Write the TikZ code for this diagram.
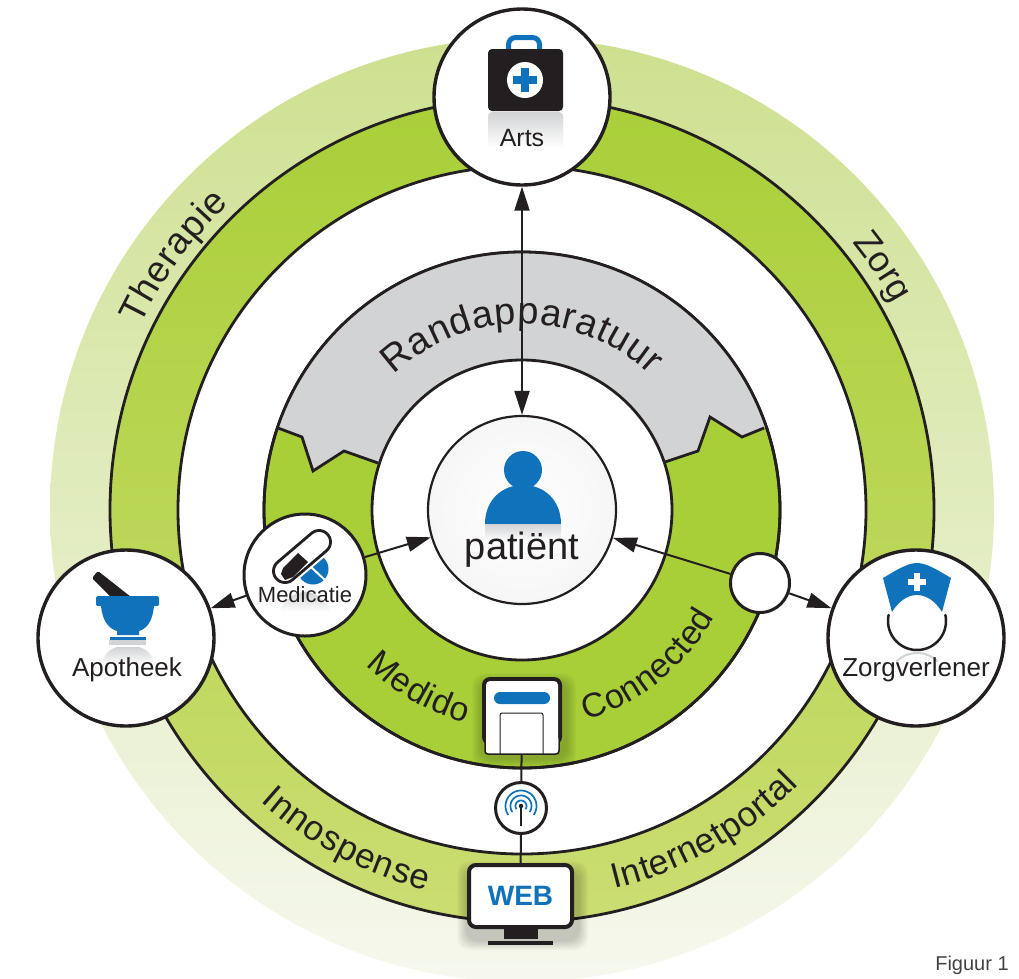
\documentclass[tikz,border=0pt]{standalone}
\usepackage{fontspec}
\setmainfont{Liberation Sans}
\usetikzlibrary{arrows.meta,shapes.geometric}
\definecolor{ink}{HTML}{231F20}
\definecolor{mblue}{HTML}{1072BA}
\definecolor{mgreen}{HTML}{A9CF38}
\definecolor{mgray}{HTML}{D1D3D4}
\definecolor{lighttop}{HTML}{CDE08F}
\definecolor{lightmid}{HTML}{D5E6A8}
\definecolor{lightbot}{HTML}{F6F8EE}
\definecolor{midmid}{HTML}{B4D348}
\definecolor{midbot}{HTML}{CBDD72}
\definecolor{patouter}{HTML}{F6F6F7}
\newcount\lc
% advance widths of the letters (em)
\def\setlw#1#2{\expandafter\def\csname lw#1\endcsname{#2}}
\setlw{a}{0.556}\setlw{c}{0.5}\setlw{d}{0.556}\setlw{e}{0.556}\setlw{g}{0.556}
\setlw{h}{0.556}\setlw{i}{0.222}\setlw{l}{0.222}\setlw{n}{0.556}\setlw{o}{0.556}
\setlw{p}{0.556}\setlw{r}{0.333}\setlw{s}{0.5}\setlw{t}{0.278}\setlw{u}{0.556}
\setlw{C}{0.722}\setlw{I}{0.278}\setlw{M}{0.833}\setlw{R}{0.722}\setlw{T}{0.611}\setlw{Z}{0.611}
% name, radius, mid angle, sense (1 clockwise, tops out; -1 anticlockwise, tops in), size, tracking, letters
\newcommand{\arcword}[7]{%
  \gdef\cursor{0}\global\lc=0
  \foreach \ltr in {#7}{
    \edef\cwem{\csname lw\ltr\endcsname}
    \pgfmathsetmacro\arcTmp{\cursor+\cwem*#5}
    \global\let\cursor\arcTmp
    \global\advance\lc by 1 }
  \pgfmathsetmacro\tot{\cursor+(\the\lc-1)*#6}
  \gdef\cursor{0}\global\lc=0
  \foreach \ltr in {#7}{
    \edef\cwem{\csname lw\ltr\endcsname}
    \pgfmathsetmacro\cw{\cwem*#5}
    \pgfmathsetmacro\sval{\cursor+\cw/2-\tot/2}
    \pgfmathsetmacro\aval{#3-#4*\sval/#2*57.29578}
    \pgfmathsetmacro\rval{\aval-#4*90}
    \node[anchor=base,inner sep=0pt,text=ink,font=\fontsize{#5}{#5}\selectfont,rotate=\rval]
      (#1-\the\lc) at ({522+#2*cos(\aval)},{510-#2*sin(\aval)}) {\ltr};
    \pgfmathsetmacro\arcTmp{\cursor+\cw+#6}
    \global\let\cursor\arcTmp
    \global\advance\lc by 1
  }}
\tikzset{
  bignode/.style={circle,draw=ink,fill=white,line width=3.4pt,minimum size=176pt,inner sep=0pt},
  midnode/.style={circle,draw=ink,fill=white,line width=3pt,inner sep=0pt},
  ringline/.style={draw=ink,line width=2.8pt},
  link/.style={draw=ink,line width=2pt},
  arrowlink/.style={link,-{Triangle[length=24pt,width=15pt]}},
  twoway/.style={link,{Triangle[length=24pt,width=15pt]}-{Triangle[length=24pt,width=15pt]}},
  lab/.style={text=ink,inner sep=0pt},
  fade/.style={top color=#1,bottom color=white,draw=none},
  fade/.default=mgray
}
\begin{document}
\begin{tikzpicture}[x=1pt,y=-1pt]
\useasboundingbox (0,0) rectangle (1019,978);
% rings
\shade[top color=lighttop,middle color=lightmid,bottom color=lightbot] (522,510) circle[radius=472];
\shade[top color=mgreen,middle color=midmid,bottom color=midbot] (522,510) circle[radius=412];
\draw[ringline] (522,510) circle[radius=412];
\draw[ringline,fill=white] (522,510) circle[radius=344];
\draw[ringline,fill=mgreen] (522,510) circle[radius=258];
\begin{scope}
  \clip (522,510) circle[radius=258];
  \fill[mgray] (278,428) -- (302,437) -- (313,471) -- (344,451) -- (378,463) -- (522,480)
    -- (665,462) -- (698,451) -- (710,417) -- (742,437) -- (764,428) -- (900,200) -- (140,200) -- cycle;
\end{scope}
\draw[ringline,line join=miter] (278,428) -- (302,437) -- (313,471) -- (344,451) -- (378,463);
\draw[ringline,line join=miter] (665,462) -- (698,451) -- (710,417) -- (742,437) -- (764,428);
\draw[ringline] (522,510) circle[radius=258];
\draw[ringline,fill=white] (522,510) circle[radius=150];
% ring texts
\arcword{wa}{424}{144}{1}{37}{0.8}{T,h,e,r,a,p,i,e}
\arcword{wb}{425}{34}{1}{36}{0.3}{Z,o,r,g}
\arcword{wc}{392}{242}{-1}{35}{1}{I,n,n,o,s,p,e,n,s,e}
\arcword{wd}{390}{299.5}{-1}{35}{0.6}{I,n,t,e,r,n,e,t,p,o,r,t,a,l}
\arcword{we}{186}{90}{1}{38}{0.6}{R,a,n,d,a,p,p,a,r,a,t,u,u,r}
\arcword{wf}{220}{240}{-1}{34}{1}{M,e,d,i,d,o}
\arcword{wg}{220}{309}{-1}{34}{0.5}{C,o,n,n,e,c,t,e,d}
% main nodes
\node[circle,draw=ink,line width=2.2pt,inner color=white,outer color=patouter,minimum size=188pt,inner sep=0pt] (pat) at (522,510) {};
\node[bignode] (arts) at (522,97) {};
\node[bignode] (apo) at (126,638) {};
\node[bignode] (zorg) at (916,638) {};
\node[midnode,minimum size=122pt] (med) at (305,575) {};
\node[midnode,minimum size=59pt] (dot) at (760,583) {};
\node[midnode,minimum size=51pt] (wifi) at (521,808) {};
% device + web shadows
\foreach \d in {1,2,...,10} {
  \fill[black,opacity=0.02,rounded corners=12pt] (482-\d,683-\d) rectangle (566+\d,758+\d);
  \fill[black,opacity=0.018,rounded corners=12pt] (467-\d,871-\d) rectangle (578+\d,940+\d);
}
\node[draw=none,minimum width=80pt,minimum height=77pt,inner sep=0pt] (dev) at (522,715.5) {};
\node[draw=ink,fill=white,line width=4pt,rounded corners=7pt,minimum width=103pt,minimum height=62pt,inner sep=0pt,
  text=mblue,font=\bfseries\fontsize{28}{28}\selectfont] (web) at (520.5,896) {\raisebox{-2pt}{WEB}};
% connectors
\draw[twoway] (pat) -- (arts);
\draw[arrowlink] (med) -- (pat);
\draw[arrowlink] (med) -- (apo);
\draw[arrowlink] (dot) -- (pat);
\draw[arrowlink] (dot) -- (zorg);
\draw[link] (dev) -- (wifi);
\draw[link] (wifi) -- (web);
% device
\fill[ink,rounded corners=8pt] (482,677) -- (562,677) -- (562,745) -- (482,745) -- cycle;
\draw[ink,fill=white,line width=1.5pt,rounded corners=3pt] (485,735) rectangle (559,754);
\fill[white,rounded corners=4pt] (486,681) rectangle (558,752.5);
\fill[mblue,rounded corners=6pt] (494,692) rectangle (550,704);
\draw[ink,line width=1pt,rounded corners=2pt] (500,754) -- (500,713) -- (543,713) -- (543,754);
% web stand
\fill[ink] (504,929) rectangle (538,939);
\fill[ink] (488,941) rectangle (553,945);
% wifi
\foreach \r in {5.5,10.5,15.5}
  \draw[mblue,line width=1.7pt] plot[domain=-35:215,samples=40,smooth] ({521+\r*cos(\x)},{806-\r*sin(\x)});
\fill[ink] (521,806) circle[radius=2.2];
\draw[ink,line width=1.5pt] (521,806) -- (521,826);
% arts icon
\draw[mblue,line width=5pt,rounded corners=7pt] (508.5,51) -- (508.5,37.5) -- (539.5,37.5) -- (539.5,51);
\fill[ink,rounded corners=4pt] (488,49) rectangle (563,111);
\shade[fade,rounded corners=4pt] (488,112) rectangle (563,148);
\fill[white] (525,80) circle[radius=18];
\fill[mblue] (513,76) rectangle (537,84);
\fill[mblue] (521,68) rectangle (529,92);
\node[lab,font=\fontsize{25}{25}\selectfont] (artslab) at (522,138) {Arts};
% patient icon
\fill[mblue] (523,470) circle[radius=19];
\fill[mblue] (485,524) .. controls (485,500) and (502,485) .. (523,485) .. controls (544,485) and (561,500) .. (561,524) -- cycle;
\shade[fade] (485,524) rectangle (561,541);
\node[lab,font=\fontsize{38}{38}\selectfont] (patlab) at (522,550) {patiënt};
% apotheek icon
\fill[ink,rounded corners=1.5pt] (98,571) -- (92,578) -- (111,597) -- (131,597) -- cycle;
\fill[mblue,rounded corners=1.5pt] (96,596) rectangle (159,606);
\fill[mblue] (101,605) .. controls (102,622) and (110,629) .. (117,631) -- (117,635) -- (139,635) -- (139,631) .. controls (146,629) and (153,622) .. (154,605) -- cycle;
\fill[mblue] (110,637) rectangle (146,640);
\fill[mgray] (109,640) rectangle (146,645);
\shade[fade] (102,665) .. controls (103,654) and (110,649) .. (117,647) -- (139,647) .. controls (146,649) and (153,654) .. (154,665) -- cycle;
\node[lab,font=\fontsize{26}{26}\selectfont] (apolab) at (127,670) {Apotheek};
% medicatie icon
\shade[fade] (280,612) .. controls (283,600) and (295,592) .. (305,592) .. controls (315,592) and (327,600) .. (330,612) -- cycle;
\fill[mblue] (313,569) circle[radius=15.5];
\draw[white,line width=2pt] (311,567) -- (326,581);
\draw[white,line width=7pt,fill=white,line join=round] plot[domain=-49.5:130.5,samples=20,smooth] ({319+11.5*cos(\x)},{542-11.5*sin(\x)}) -- plot[domain=130.5:310.5,samples=20,smooth] ({285+11.5*cos(\x)},{571-11.5*sin(\x)}) -- cycle;
\draw[ink,line width=2.8pt,fill=white,line join=round] plot[domain=-49.5:130.5,samples=20,smooth] ({319+11.5*cos(\x)},{542-11.5*sin(\x)}) -- plot[domain=130.5:310.5,samples=20,smooth] ({285+11.5*cos(\x)},{571-11.5*sin(\x)}) -- cycle;
\fill[ink] (298,553) -- (308,562) -- (293,577) -- (285,580) -- (281,574) -- (283,568) -- cycle;
\node[lab,font=\fontsize{22}{22}\selectfont] (medlab) at (305,595) {Medicatie};
% zorg icon
\fill[mblue] (883,578) .. controls (895,571) and (907,563) .. (917,563) .. controls (927,563) and (939,571) .. (951,578) -- (942,612) .. controls (936,602) and (927,595) .. (917,595) .. controls (907,595) and (898,602) .. (892,612) -- cycle;
\fill[white] (908,579) rectangle (926,585);
\fill[white] (914,573) rectangle (920,591);
\draw[ink,line width=2.5pt,line cap=round] plot[domain=168:372,samples=40,smooth] ({917+29*cos(\x)},{621-29*sin(\x)});
\draw[mgray,line width=2pt] plot[domain=45:135,samples=30,smooth] ({917+29*cos(\x)},{682-29*sin(\x)});
\node[lab,font=\fontsize{26}{26}\selectfont] (zorglab) at (916,670) {Zorgverlener};
% caption
\node[lab,font=\fontsize{20}{20}\selectfont,text=ink!85!white] (fig) at (972,965) {Figuur 1};
\end{tikzpicture}
\end{document}
